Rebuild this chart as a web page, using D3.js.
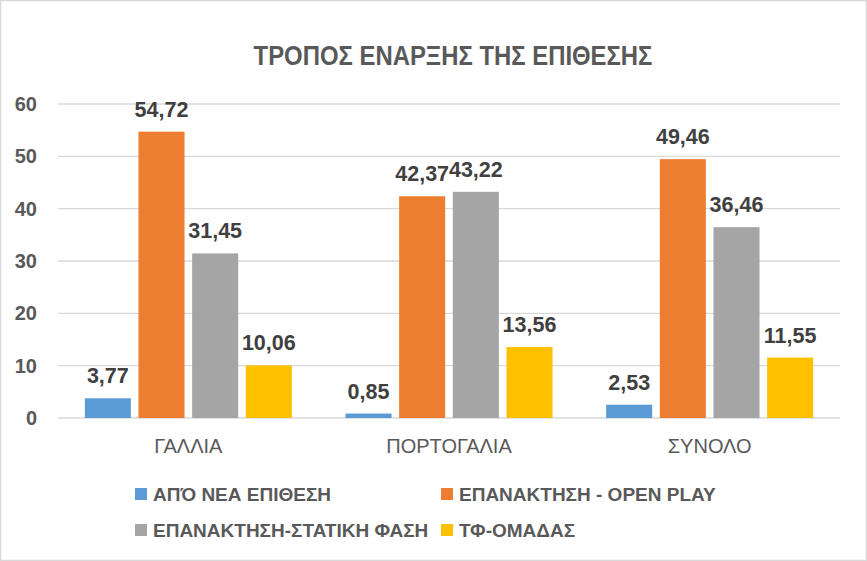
<!DOCTYPE html>
<html><head><meta charset="utf-8">
<script src="https://cdn.jsdelivr.net/npm/d3@7"></script>
<style>body{margin:0;background:#fff}</style>
</head><body>
<svg id="c" width="867" height="561"></svg>
<script>
const categories = ["ΓΑΛΛΙΑ", "ΠΟΡΤΟΓΑΛΙΑ", "ΣΥΝΟΛΟ"];
const seriesNames = ["ΑΠΌ ΝΕΑ ΕΠΙΘΕΣΗ", "ΕΠΑΝΑΚΤΗΣΗ - OPEN PLAY", "ΕΠΑΝΑΚΤΗΣΗ-ΣΤΑΤΙΚΗ ΦΑΣΗ", "ΤΦ-ΟΜΑΔΑΣ"];
const apoNeaEpithesi = [3.77, 0.85, 2.53];
const openPlay = [54.72, 42.37, 49.46];
const statikiFasi = [31.45, 43.22, 36.46];
const tfOmadas = [10.06, 13.56, 11.55];
const colors = ["#5B9BD5", "#ED7D31", "#A5A5A5", "#FFC000"];
const yTicks = [0, 10, 20, 30, 40, 50, 60];
const title = "ΤΡΟΠΟΣ ΕΝΑΡΞΗΣ ΤΗΣ ΕΠΙΘΕΣΗΣ";

const seriesValues = [apoNeaEpithesi, openPlay, statikiFasi, tfOmadas];
const FONT = "'Liberation Sans', Arial, sans-serif";
const svg = d3.select("#c");
svg.append("rect").attr("x",0.5).attr("y",0.5).attr("width",866).attr("height",560)
  .attr("fill","#fff").attr("stroke","#d9d9d9").attr("stroke-width",1.5);

const pLeft = 58, pRight = 840, pTop = 104, pBottom = 418;
const x = d3.scaleBand().domain(categories).range([pLeft, pRight]).paddingInner(0).paddingOuter(0);
const xi = d3.scaleBand().domain(d3.range(4)).range([0, x.bandwidth()]).paddingInner(0.142).paddingOuter(0.5);
const y = d3.scaleLinear().domain([0, 60]).range([pBottom, pTop]);

svg.append("g").selectAll("line").data(yTicks).join("line")
  .attr("x1", pLeft).attr("x2", pRight)
  .attr("y1", d => y(d)).attr("y2", d => y(d))
  .attr("stroke", "#d9d9d9").attr("stroke-width", 1.3);

svg.append("g").selectAll("text").data(yTicks).join("text")
  .attr("x", 37).attr("y", d => y(d)).attr("dy", "0.35em")
  .attr("text-anchor", "end").attr("font-family", FONT).attr("font-weight", "bold")
  .attr("font-size", 20).attr("fill", "#595959").text(d => d);

const barLayer = svg.append("g");
const labelLayer = svg.append("g");
seriesValues.forEach((vals, si) => {
  barLayer.append("g").attr("fill", colors[si]).selectAll("rect").data(vals).join("rect")
    .attr("x", (v, ci) => x(categories[ci]) + xi(si))
    .attr("width", xi.bandwidth())
    .attr("y", v => y(v))
    .attr("height", v => y(0) - y(v));
  labelLayer.append("g").selectAll("text").data(vals).join("text")
    .attr("x", (v, ci) => x(categories[ci]) + xi(si) + xi.bandwidth() / 2)
    .attr("y", v => y(v) - 15)
    .attr("text-anchor", "middle").attr("font-family", FONT).attr("font-weight", "bold")
    .attr("font-size", 21.5).attr("fill", "#404040")
    .text(v => v.toFixed(2).replace(".", ","));
});

svg.append("g").selectAll("text").data(categories).join("text")
  .attr("x", d => x(d) + x.bandwidth() / 2).attr("y", 453)
  .attr("text-anchor", "middle").attr("font-family", FONT)
  .attr("font-size", 20).attr("fill", "#595959").text(d => d);

svg.append("text").attr("transform", "translate(453,65) scale(0.885,1)").attr("text-anchor", "middle")
  .attr("font-family", FONT).attr("font-weight", "bold").attr("font-size", 27)
  .attr("fill", "#595959").text(title);

const legPos = [[135, 494], [441, 494], [135, 530], [441, 530]];
const leg = svg.append("g").selectAll("g").data(seriesNames).join("g")
  .attr("transform", (d, i) => `translate(${legPos[i][0]},${legPos[i][1]})`);
leg.append("rect").attr("x", 0).attr("y", -6).attr("width", 12).attr("height", 12)
  .attr("fill", (d, i) => colors[i]);
leg.append("text").attr("x", 18).attr("y", 0).attr("dy", "0.35em")
  .attr("font-family", FONT).attr("font-weight", "bold").attr("font-size", 19)
  .attr("fill", "#595959").text(d => d);
</script>
</body></html>
